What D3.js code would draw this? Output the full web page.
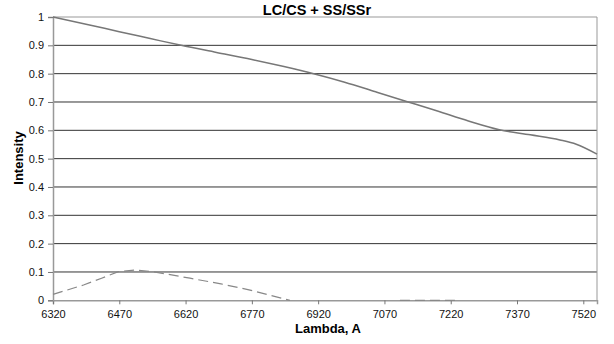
<!DOCTYPE html>
<html>
<head>
<meta charset="utf-8">
<script src="https://cdn.jsdelivr.net/npm/d3@7"></script>
<style>
  body { margin: 0; background: #fff; }
  text { font-family: Arial, "Liberation Sans", sans-serif; }
</style>
</head>
<body>
<div id="chart"></div>
<script>
// data
var lambdaMain = [6320, 6400, 6470, 6540, 6610, 6690, 6770, 6840, 6910, 6980, 7050, 7120, 7190, 7260, 7330, 7400, 7467, 7504, 7551];
var intensityMain = [1.0, 0.973, 0.948, 0.924, 0.9, 0.875, 0.85, 0.826, 0.8, 0.77, 0.736, 0.702, 0.668, 0.633, 0.602, 0.584, 0.566, 0.551, 0.516];

var lambdaSS = [6320, 6389, 6430, 6468, 6505, 6547, 6630, 6700, 6766, 6856, 6857, 7104, 7105, 7230];
var intensitySS = [0.021, 0.054, 0.078, 0.101, 0.107, 0.101, 0.078, 0.058, 0.036, 0, null, null, 0, 0];

var xTicks = [6320, 6470, 6620, 6770, 6920, 7070, 7220, 7370, 7520];
var yTicks = [0, 0.1, 0.2, 0.3, 0.4, 0.5, 0.6, 0.7, 0.8, 0.9, 1];

var svgWidth = 614, svgHeight = 344;
var margin = {top: 17, right: 17, bottom: 43.7, left: 53};
var width = svgWidth - margin.left - margin.right;
var height = svgHeight - margin.top - margin.bottom;

var svg = d3.select("#chart").append("svg")
  .attr("width", svgWidth)
  .attr("height", svgHeight);

var g = svg.append("g")
  .attr("transform", `translate(${margin.left}, ${margin.top})`);

var x = d3.scaleLinear().domain([6320, 7551]).range([0, width]);
var y = d3.scaleLinear().domain([0, 1]).range([height, 0]);

// gridlines
g.selectAll(".grid").data(yTicks.slice(1)).enter().append("line")
  .attr("x1", 0).attr("x2", width)
  .attr("y1", d => y(d)).attr("y2", d => y(d))
  .attr("stroke", d => d === 1 ? "#999" : "#333")
  .attr("stroke-width", 1);

// right border
g.append("line")
  .attr("x1", width).attr("x2", width)
  .attr("y1", 0).attr("y2", height)
  .attr("stroke", "#999");

// axes
var xAxis = g.append("g")
  .attr("transform", `translate(0, ${height})`)
  .call(d3.axisBottom(x).tickValues(xTicks).tickSize(4).tickPadding(6).tickFormat(d3.format("d")));
var yAxis = g.append("g")
  .call(d3.axisLeft(y).tickValues(yTicks).tickSize(5).tickPadding(4).tickFormat(d => d));

[xAxis, yAxis].forEach(function(a) {
  a.select(".domain").attr("stroke", "#999").attr("stroke-width", 1.5);
  a.selectAll(".tick line").attr("stroke", "#777");
  a.selectAll("text").attr("font-size", 11).attr("fill", "#111")
    .attr("font-family", "Arial, 'Liberation Sans', sans-serif");
});

// series
var lineMain = d3.line()
  .curve(d3.curveMonotoneX)
  .x((d, i) => x(lambdaMain[i]))
  .y(d => y(d));
g.append("path")
  .datum(intensityMain)
  .attr("fill", "none")
  .attr("stroke", "#777")
  .attr("stroke-width", 1.5)
  .attr("d", lineMain);

var lineSS = d3.line()
  .defined(d => d !== null)
  .x((d, i) => x(lambdaSS[i]))
  .y(d => y(d));
g.append("path")
  .datum(intensitySS)
  .attr("fill", "none")
  .attr("stroke", "#888")
  .attr("stroke-width", 1.2)
  .attr("stroke-dasharray", "10,5")
  .attr("d", lineSS);

// titles
svg.append("text")
  .attr("x", 317).attr("y", 15)
  .attr("text-anchor", "middle")
  .attr("font-weight", "bold")
  .attr("font-size", 14.5)
  .text("LC/CS + SS/SSr");

svg.append("text")
  .attr("x", 328).attr("y", 333)
  .attr("text-anchor", "middle")
  .attr("font-weight", "bold")
  .attr("font-size", 13)
  .text("Lambda, A");

svg.append("text")
  .attr("transform", "translate(23, 158) rotate(-90)")
  .attr("text-anchor", "middle")
  .attr("font-weight", "bold")
  .attr("font-size", 13)
  .text("Intensity");
</script>
</body>
</html>
